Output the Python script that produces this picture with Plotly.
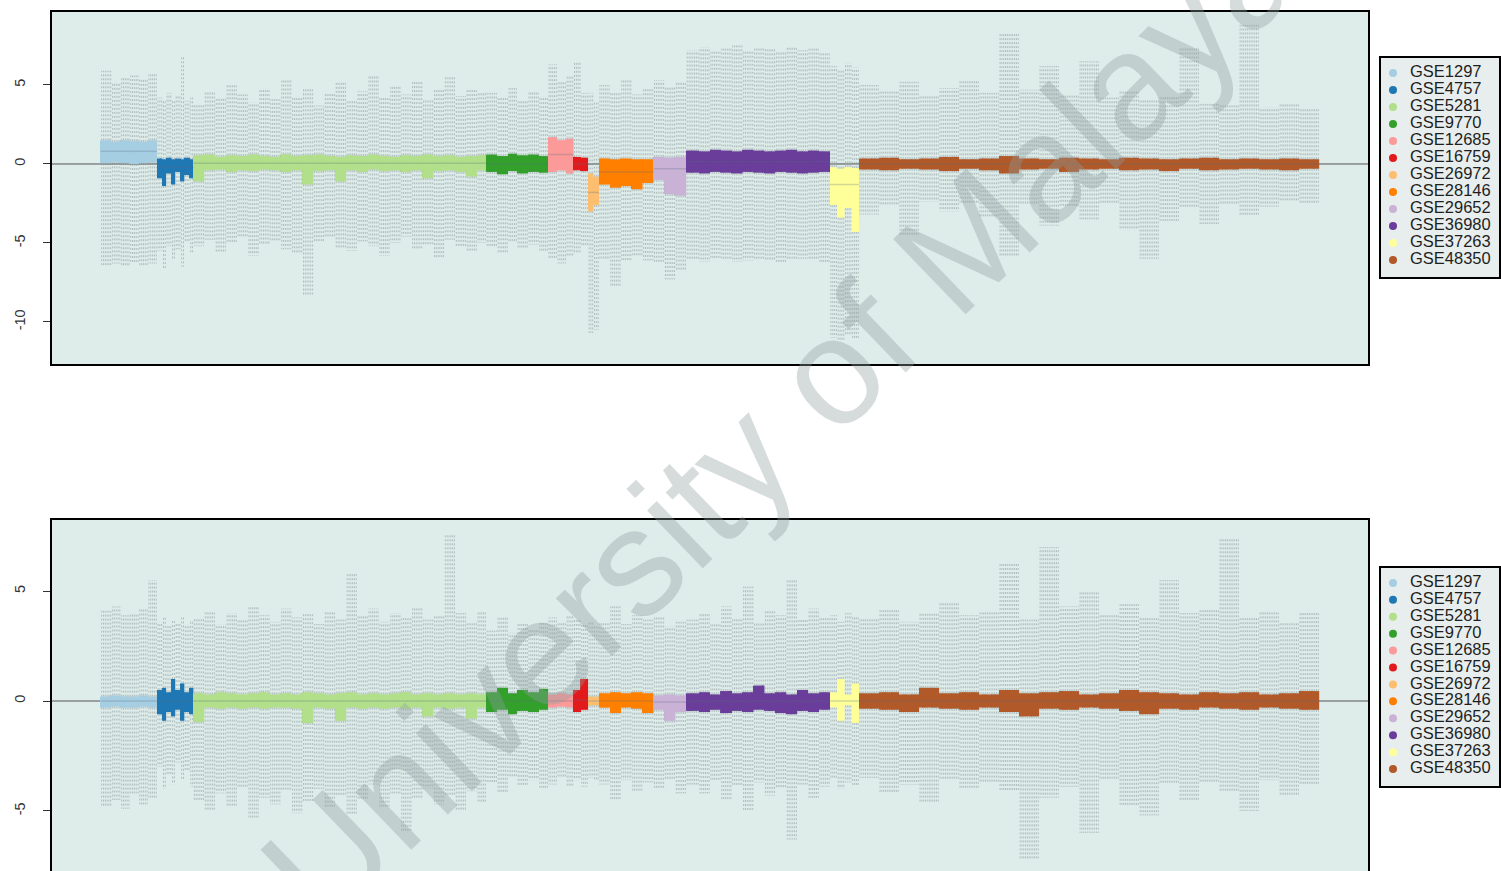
import numpy as np
import plotly.graph_objects as go

# ---------------- data ----------------
datasets = ["GSE1297", "GSE4757", "GSE5281", "GSE9770", "GSE12685", "GSE16759",
            "GSE26972", "GSE28146", "GSE29652", "GSE36980", "GSE37263", "GSE48350"]
colors = ["#A6CEE3", "#1F78B4", "#B2DF8A", "#33A02C", "#FB9A99", "#E31A1C",
          "#FDBF6F", "#FF7F00", "#CAB2D6", "#6A3D9A", "#FFFF99", "#B15928"]
n_samples = [31, 20, 161, 34, 14, 8, 6, 30, 18, 79, 16, 253]

# values read per group of consecutive samples (each list spreads evenly over the dataset's samples)
# ---- top panel ----
top_q3 = [
    [1.5, 1.4, 1.5, 1.45, 1.4, 1.5],
    [0.35, 0.3, 0.4, 0.3, 0.35, 0.3, 0.4, 0.3],
    [0.55, 0.6, 0.45, 0.55, 0.5, 0.6, 0.5, 0.45, 0.6, 0.5, 0.55, 0.6, 0.5, 0.45, 0.55, 0.5, 0.6, 0.5, 0.45, 0.55, 0.5, 0.6, 0.5, 0.55, 0.45, 0.5, 0.55],
    [0.6, 0.5, 0.65, 0.55, 0.6, 0.5],
    [1.7, 1.5, 1.6],
    [0.45, 0.4],
    [-0.6, -0.8],
    [0.35, 0.3, 0.35, 0.3, 0.3],
    [0.45, 0.4, 0.45],
    [0.85, 0.8, 0.9, 0.85, 0.8, 0.9, 0.85, 0.8, 0.85, 0.9, 0.8, 0.85, 0.8],
    [-0.2, -0.3, -0.2, -0.25],
    [0.35, 0.4, 0.3, 0.35, 0.45, 0.3, 0.35, 0.5, 0.35, 0.3, 0.4, 0.35, 0.3, 0.4, 0.35, 0.3, 0.35, 0.4, 0.3, 0.35, 0.3, 0.35, 0.3],
]
top_q1 = [
    [0.05, 0.1, 0.05, 0.0, 0.05, 0.1],
    [-0.9, -1.4, -0.6, -1.3, -0.5, -1.1, -0.7, -0.9],
    [-1.1, -0.4, -0.35, -0.5, -0.4, -0.45, -0.35, -0.4, -0.5, -0.4, -1.3, -0.45, -0.4, -1.1, -0.4, -0.5, -0.35, -0.45, -0.4, -0.5, -0.4, -0.9, -0.45, -0.4, -0.5, -0.8, -0.4],
    [-0.5, -0.65, -0.45, -0.6, -0.5, -0.55],
    [-0.5, -0.4, -0.6],
    [-0.4, -0.45],
    [-3.0, -2.6],
    [-1.3, -1.5, -1.4, -1.6, -1.2],
    [-1.0, -1.9, -2.0],
    [-0.55, -0.6, -0.5, -0.55, -0.6, -0.5, -0.55, -0.6, -0.5, -0.55, -0.6, -0.55, -0.5],
    [-2.6, -3.4, -2.8, -4.3],
    [-0.35, -0.4, -0.3, -0.35, -0.45, -0.3, -0.4, -0.6, -0.35, -0.3, -0.5, -0.35, -0.3, -0.4, -0.35, -0.45, -0.3, -0.4, -0.35, -0.3, -0.35, -0.4, -0.3],
]
top_med = [[0.8], [-0.2], [0.05], [0.0], [0.6], [0.0], [-1.8], [-0.5], [-0.3], [0.15], [-1.3], [0.0]]
top_upper = [
    [5.9, 5.2, 5.5, 5.6, 5.4, 5.8],
    [4.2, 4.0, 4.5, 4.1, 4.3, 6.8, 4.0, 4.2],
    [3.8, 4.6, 4.2, 5.0, 4.4, 3.9, 4.7, 4.1, 5.4, 4.3, 4.8, 3.7, 4.5, 5.2, 4.0, 4.6, 5.6, 4.2, 4.9, 4.4, 5.3, 4.1, 4.7, 5.5, 4.3, 4.8, 4.5],
    [4.5, 4.2, 4.8, 4.0, 4.6, 4.3],
    [6.3, 5.2, 5.6],
    [6.5, 4.5],
    [4.5, 4.0],
    [5.0, 4.6, 5.3, 4.4, 4.8],
    [5.3, 4.9, 5.2],
    [7.2, 7.4, 7.1, 7.3, 7.5, 7.2, 7.4, 7.3, 7.1, 7.4, 7.2, 7.3, 7.0],
    [6.2, 6.0, 6.4, 6.1],
    [5.0, 4.6, 5.2, 4.4, 4.8, 5.3, 4.5, 8.3, 4.7, 6.2, 4.4, 6.5, 4.2, 4.6, 4.1, 4.3, 7.4, 3.8, 3.7, 8.8, 3.6, 3.8, 3.5],
]
top_lower = [
    [-6.4, -6.3, -6.5, -6.2, -6.4, -6.3],
    [-5.5, -6.7, -5.2, -6.0, -5.4, -6.5, -5.0, -5.6],
    [-5.2, -4.8, -5.6, -5.0, -4.6, -5.8, -5.1, -4.9, -5.4, -5.7, -8.3, -5.0, -4.7, -5.3, -5.5, -4.9, -5.2, -5.8, -5.0, -4.6, -5.4, -5.1, -5.9, -4.8, -5.3, -5.6, -5.0],
    [-5.2, -5.6, -5.0, -5.4, -5.1, -5.5],
    [-6.0, -6.3, -5.9],
    [-5.6, -5.2],
    [-10.7, -10.5],
    [-6.0, -7.8, -6.2, -5.8, -6.1],
    [-6.2, -7.3, -6.8],
    [-6.1, -6.2, -6.0, -6.1, -6.2, -6.1, -6.0, -6.1, -6.2, -6.1, -6.0, -6.1, -6.2],
    [-11.0, -11.2, -10.9, -11.1],
    [-3.2, -2.6, -4.5, -2.4, -3.0, -2.5, -3.4, -5.8, -2.6, -3.9, -2.7, -3.5, -2.5, -4.2, -6.0, -3.6, -2.8, -3.8, -2.6, -3.3, -2.7, -2.4, -2.5],
]

# ---- bottom panel ----
bot_q3 = [
    [0.2, 0.25, 0.2, 0.2, 0.25, 0.2],
    [0.5, 0.6, 0.4, 1.0, 0.5, 0.8, 0.4, 0.6],
    [0.35, 0.3, 0.4, 0.35, 0.3, 0.35, 0.4, 0.3, 0.35, 0.3, 0.4, 0.35, 0.3, 0.35, 0.4, 0.3, 0.35, 0.3, 0.35, 0.4, 0.3, 0.35, 0.3, 0.35, 0.3, 0.35, 0.3],
    [0.4, 0.6, 0.35, 0.5, 0.4, 0.55],
    [0.3, 0.35, 0.3],
    [0.5, 1.0],
    [0.2, 0.2],
    [0.35, 0.4, 0.35, 0.4, 0.35],
    [0.25, 0.3, 0.25],
    [0.35, 0.4, 0.3, 0.45, 0.35, 0.4, 0.7, 0.35, 0.4, 0.3, 0.5, 0.35, 0.4],
    [0.4, 1.0, 0.3, 0.8],
    [0.35, 0.4, 0.3, 0.6, 0.35, 0.4, 0.3, 0.5, 0.35, 0.4, 0.45, 0.3, 0.35, 0.5, 0.4, 0.35, 0.3, 0.4, 0.35, 0.4, 0.3, 0.35, 0.45],
]
bot_q1 = [
    [-0.3, -0.25, -0.3, -0.3, -0.25, -0.3],
    [-0.6, -0.9, -0.5, -0.7, -0.4, -0.9, -0.5, -0.6],
    [-0.95, -0.3, -0.35, -0.3, -0.35, -0.3, -0.35, -0.3, -0.3, -0.35, -1.0, -0.3, -0.35, -0.9, -0.3, -0.35, -0.3, -0.35, -0.3, -0.35, -0.3, -0.7, -0.3, -0.35, -0.3, -0.8, -0.3],
    [-0.5, -0.4, -0.6, -0.45, -0.5, -0.4],
    [-0.3, -0.25, -0.3],
    [-0.5, -0.4],
    [-0.2, -0.2],
    [-0.3, -0.55, -0.3, -0.35, -0.55],
    [-0.4, -0.9, -0.5],
    [-0.45, -0.5, -0.4, -0.55, -0.45, -0.5, -0.4, -0.45, -0.55, -0.6, -0.45, -0.5, -0.4],
    [-0.3, -0.9, -0.2, -1.0],
    [-0.35, -0.4, -0.5, -0.3, -0.35, -0.4, -0.3, -0.5, -0.7, -0.35, -0.4, -0.3, -0.35, -0.45, -0.6, -0.35, -0.4, -0.3, -0.35, -0.4, -0.3, -0.35, -0.4],
]
bot_med = [[0.0], [0.0], [0.0], [0.0], [0.0], [0.05], [0.0], [0.0], [-0.05], [0.0], [0.0], [0.0]]
bot_upper = [
    [4.1, 4.3, 3.9, 4.0, 4.2, 5.5],
    [3.6, 3.8, 3.4, 3.7, 3.5, 3.8, 3.4, 3.6],
    [3.8, 4.1, 3.5, 4.0, 3.7, 4.3, 3.9, 3.6, 4.2, 3.8, 4.0, 3.5, 4.1, 3.7, 5.8, 3.9, 4.2, 3.6, 4.0, 3.8, 4.3, 3.7, 3.9, 7.6, 4.0, 3.6, 4.1],
    [3.2, 3.8, 3.1, 3.5, 3.3, 3.6],
    [3.8, 3.6, 3.9],
    [3.7, 3.5],
    [3.6, 3.4],
    [3.6, 4.3, 3.5, 3.9, 3.7],
    [3.8, 3.4, 3.6],
    [3.7, 4.0, 3.5, 4.3, 3.8, 5.2, 3.6, 4.1, 3.9, 5.5, 3.7, 4.2, 3.8],
    [3.9, 3.6, 4.0, 3.8],
    [3.8, 4.2, 3.6, 4.0, 4.5, 3.9, 4.1, 6.3, 3.7, 7.0, 4.3, 5.0, 3.9, 4.4, 3.8, 5.5, 4.0, 4.2, 7.4, 3.8, 4.1, 3.6, 4.0],
]
bot_lower = [
    [-4.8, -4.5, -4.9, -4.2, -4.7, -4.4],
    [-3.0, -4.0, -3.4, -3.8, -2.8, -3.6, -3.2, -3.9],
    [-4.5, -5.0, -4.2, -4.8, -3.9, -5.3, -4.4, -4.7, -4.1, -5.1, -4.6, -4.0, -4.9, -4.3, -5.2, -4.5, -3.8, -4.8, -4.2, -5.9, -4.4, -4.0, -4.7, -4.3, -5.0, -4.1, -4.6],
    [-3.7, -4.2, -3.5, -3.9, -3.6, -4.0],
    [-3.8, -3.5, -3.9],
    [-3.6, -3.9],
    [-3.5, -3.6],
    [-3.8, -4.5, -3.6, -4.1, -3.7],
    [-4.0, -3.6, -4.2],
    [-3.8, -4.2, -3.6, -4.5, -3.9, -5.0, -3.7, -4.3, -4.0, -6.3, -3.8, -4.4, -3.9],
    [-3.5, -4.0, -3.7, -3.9],
    [-3.5, -4.2, -3.8, -4.6, -3.6, -4.0, -3.7, -4.1, -7.2, -4.4, -3.9, -6.0, -3.6, -4.8, -5.2, -3.8, -4.5, -3.7, -4.1, -5.0, -3.6, -4.3, -3.8],
]

top_ticks = [5, 0, -5, -10]
bot_ticks = [5, 0, -5]

# ---------------- helpers ----------------
def spread(vals, n):
    """assign each listed group value to its share of consecutive samples"""
    k = len(vals)
    return np.array([vals[i * k // n] for i in range(n)], dtype=float)

N_TOTAL = sum(n_samples)
starts = np.concatenate([[0], np.cumsum(n_samples)[:-1]])

fig = go.Figure()

WH_COLOR = "rgba(120,132,138,0.45)"
MED_COLOR = "rgba(90,110,130,0.30)"

def add_panel(q3s, q1s, meds, ups, lows, xa, ya):
    wx, wy = [], []
    mx, my = [], []
    bars = []
    for d in range(len(datasets)):
        n = n_samples[d]
        xs = starts[d] + np.arange(n) + 1
        q3 = spread(q3s[d], n)
        q1 = spread(q1s[d], n)
        md = spread(meds[d], n)
        hi = spread(ups[d], n)
        lo = spread(lows[d], n)
        for i in range(n):
            wx += [xs[i], xs[i], None, xs[i], xs[i], None]
            wy += [q3[i], hi[i], None, q1[i], lo[i], None]
            mx += [xs[i] - 0.45, xs[i] + 0.45, None]
            my += [md[i], md[i], None]
        bars.append(go.Bar(x=xs, y=q3 - q1, base=q1, width=0.92,
                           marker=dict(color=colors[d], line=dict(width=0)),
                           showlegend=False, hoverinfo="skip", xaxis=xa, yaxis=ya))
    fig.add_trace(go.Scatter(x=wx, y=wy, mode="lines",
                             line=dict(color=WH_COLOR, width=1, dash="2px,2px"),
                             showlegend=False, hoverinfo="skip", xaxis=xa, yaxis=ya))
    for b in bars:
        fig.add_trace(b)
    fig.add_trace(go.Scatter(x=mx, y=my, mode="lines",
                             line=dict(color=MED_COLOR, width=1.5),
                             showlegend=False, hoverinfo="skip", xaxis=xa, yaxis=ya))

add_panel(top_q3, top_q1, top_med, top_upper, top_lower, "x", "y")
add_panel(bot_q3, bot_q1, bot_med, bot_upper, bot_lower, "x2", "y2")

W, H = 1501, 871
FONT = "Liberation Sans, Arial, Helvetica, sans-serif"
LEG_BG = "#e8eeee"

# legend boxes drawn on their own small axes (one row per dataset)
rows = list(range(len(datasets)))
for xa, ya in (("x3", "y3"), ("x4", "y4")):
    fig.add_trace(go.Scatter(x=[13] * len(rows), y=rows, mode="markers",
                             marker=dict(color=colors, size=8),
                             showlegend=False, hoverinfo="skip", xaxis=xa, yaxis=ya))
    fig.add_trace(go.Scatter(x=[30] * len(rows), y=rows, mode="text", text=datasets,
                             textposition="middle right",
                             textfont=dict(family=FONT, size=16.5, color="#1e1e1e"),
                             showlegend=False, hoverinfo="skip", xaxis=xa, yaxis=ya))

xr = [0.5 - 0.04 * N_TOTAL, N_TOTAL + 0.5 + 0.04 * N_TOTAL]
xdom = [52 / W, 1368 / W]
PLOT_BG = "#deecea"

axis_common = dict(showgrid=False, zeroline=False)
hidden = dict(visible=False, showgrid=False, zeroline=False, fixedrange=True)

leg_xdom = [1380 / W, 1500 / W]
leg_yr = [12.06, -0.94]

fig.update_layout(
    width=W, height=H,
    margin=dict(l=0, r=0, t=0, b=0),
    paper_bgcolor="white",
    plot_bgcolor=PLOT_BG,
    barmode="overlay",
    showlegend=False,
    font=dict(family=FONT, size=14, color="#333333"),
    xaxis=dict(domain=xdom, range=xr, showticklabels=False, ticks="",
               showline=True, linewidth=2, linecolor="black", mirror=True,
               anchor="y", **axis_common),
    yaxis=dict(domain=[1 - 364 / H, 1 - 12 / H], range=[-12.66, 9.62],
               tickvals=top_ticks, ticktext=[str(t) for t in top_ticks],
               tickangle=-90, ticks="outside", ticklen=7, tickcolor="#333333",
               ticklabelstandoff=12, tickfont=dict(size=14.5),
               showline=True, linewidth=2, linecolor="black", mirror=True,
               anchor="x", **axis_common),
    xaxis2=dict(domain=xdom, range=xr, showticklabels=False, ticks="",
                side="top", showline=True, linewidth=2, linecolor="black",
                mirror=False, anchor="y2", **axis_common),
    yaxis2=dict(domain=[0, 1 - 520 / H], range=[-7.73, 8.23],
                tickvals=bot_ticks, ticktext=[str(t) for t in bot_ticks],
                tickangle=-90, ticks="outside", ticklen=7, tickcolor="#333333",
                ticklabelstandoff=12, tickfont=dict(size=14.5),
                showline=True, linewidth=2, linecolor="black", mirror=True,
                anchor="x2", **axis_common),
    xaxis3=dict(domain=leg_xdom, range=[0, 120], anchor="y3", **hidden),
    yaxis3=dict(domain=[1 - 278 / H, 1 - 57 / H], range=leg_yr, anchor="x3", **hidden),
    xaxis4=dict(domain=leg_xdom, range=[0, 120], anchor="y4", **hidden),
    yaxis4=dict(domain=[1 - 787 / H, 1 - 567 / H], range=leg_yr, anchor="x4", **hidden),
    shapes=[
        dict(type="line", xref="x domain", yref="y", x0=0, x1=1, y0=0, y1=0,
             line=dict(color="#555555", width=1), layer="below"),
        dict(type="line", xref="x2 domain", yref="y2", x0=0, x1=1, y0=0, y1=0,
             line=dict(color="#555555", width=1), layer="below"),
        dict(type="rect", xref="x3 domain", yref="y3 domain", x0=0, x1=1, y0=0, y1=1,
             fillcolor=LEG_BG, line=dict(color="black", width=2), layer="below"),
        dict(type="rect", xref="x4 domain", yref="y4 domain", x0=0, x1=1, y0=0, y1=1,
             fillcolor=LEG_BG, line=dict(color="black", width=2), layer="below"),
    ],
    annotations=[
        dict(text="University of Malaya", xref="paper", yref="paper",
             x=780 / W, y=1 - 420 / H, showarrow=False, textangle=-44,
             font=dict(family=FONT, size=152, color="rgba(140,158,158,0.36)")),
    ],
)

fig.write_html("out.html", config={"displayModeBar": False},
               post_script="document.body.style.margin='0px';document.body.style.overflow='hidden';")
